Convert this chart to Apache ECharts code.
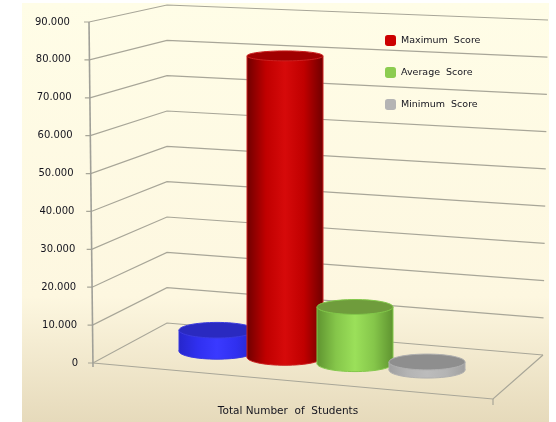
<!DOCTYPE html>
<html lang="en">
<head>
<meta charset="UTF-8">
<title>score chart</title>
<script type="text/javascript" src="https://cdn.jsdelivr.net/npm/echarts@6/dist/echarts.min.js"></script>
<style>
  html, body { margin: 0; padding: 0; background: #fff; }
  #main { width: 556px; height: 422px; filter: blur(0.6px); }
</style>
</head>
<body>
<div id="main"></div>
<script type="text/javascript">
var categories = ['Total Number  of  Students'];
var tickLabels = ['0', '10.000', '20.000', '30.000', '40.000', '50.000', '60.000', '70.000', '80.000', '90.000'];
var tickValues = [0, 10000, 20000, 30000, 40000, 50000, 60000, 70000, 80000, 90000];
var legendNames = ['Maximum  Score', 'Average  Score', 'Minimum  Score'];
var studentsValues = [5700];
var maximumValues = [82000];
var averageValues = [15400];
var minimumValues = [2200];

var myChart = echarts.init(document.getElementById('main'));

// perspective of the box, front y comes from the value axis
var left = 93, top0 = 22, bottom0 = 363, maxV = 90000;
var back = { x: 167, y0: 323, h: 318 };
var side = { x: 543, y0: 355, h: 335 };
var frontRight = { x: 493, y: 399 };
var clusterShift = [-71, -3, 67, 139];
var textColor = '#14141e';

function hGrad(edge, mid, light) {
    return {
        type: 'linear', x: 0, y: 0, x2: 1, y2: 0,
        colorStops: [
            { offset: 0, color: edge },
            { offset: 0.25, color: mid },
            { offset: 0.5, color: light },
            { offset: 0.75, color: mid },
            { offset: 1, color: edge }
        ]
    };
}

// wall lines and floor
function renderBox(params, api) {
    var children = [];
    var lineStyle = { stroke: '#a8a698', lineWidth: 1.2, fill: null };
    tickValues.forEach(function (v) {
        var p = api.coord([0, v]);
        var t = v / maxV;
        var ax = left - 4 * t;
        children.push({
            type: 'polyline',
            shape: { points: [[ax - 5, p[1]], [ax, p[1]], [back.x, back.y0 - back.h * t], [side.x + 5 * t, side.y0 - side.h * t]] },
            style: lineStyle
        });
    });
    // vertical axis, leans a little
    children.push({
        type: 'line',
        shape: { x1: left - 4, y1: api.coord([0, maxV])[1], x2: left, y2: api.coord([0, 0])[1] + 4 },
        style: { stroke: '#a0a098', lineWidth: 1.6 }
    });
    // floor front edge and right edge
    children.push({
        type: 'polyline',
        shape: { points: [[left, bottom0], [frontRight.x, frontRight.y], [side.x, side.y0]] },
        style: lineStyle
    });
    children.push({
        type: 'line',
        shape: { x1: frontRight.x, y1: frontRight.y, x2: frontRight.x, y2: frontRight.y + 6 },
        style: lineStyle
    });
    return { type: 'group', children: children };
}

// one cylinder, index = place in the cluster
function makeCylinder(index, c) {
    return function (params, api) {
        var val = api.value(1);
        var center = api.coord([0, 0]);
        var x = center[0] + clusterShift[index];
        var yBase = center[1] + (x - left) * 0.09 - 23;
        var h = api.size([0, val])[1] * 0.97;
        var rx = 38, ry = 8;
        // top gets flatter the higher it is
        var ryTop = ry - 3 * h / 300;
        var stroke = c.stroke;
        return {
            type: 'group',
            children: [
                { type: 'ellipse', shape: { cx: x, cy: yBase, rx: rx, ry: ry }, style: { fill: hGrad(c.edge, c.mid, c.light), stroke: stroke, lineWidth: 1 } },
                { type: 'rect', shape: { x: x - rx, y: yBase - h, width: rx * 2, height: h }, style: { fill: hGrad(c.edge, c.mid, c.light), stroke: null } },
                { type: 'line', shape: { x1: x - rx, y1: yBase - h, x2: x - rx, y2: yBase }, style: { stroke: stroke, lineWidth: 1 } },
                { type: 'line', shape: { x1: x + rx, y1: yBase - h, x2: x + rx, y2: yBase }, style: { stroke: stroke, lineWidth: 1 } },
                { type: 'ellipse', shape: { cx: x, cy: yBase - h, rx: rx, ry: ryTop }, style: { fill: c.top, stroke: stroke, lineWidth: 1 } }
            ]
        };
    };
}

var rich = {};
tickLabels.forEach(function (t, i) {
    rich['t' + i] = { color: textColor, fontFamily: 'DejaVu Sans', fontSize: 10, padding: [0, i * 0.9, 0, 0] };
});

function cylinderSeries(name, values, index, c) {
    return {
        name: name,
        type: 'custom',
        renderItem: makeCylinder(index, c),
        encode: { x: 0, y: 1 },
        data: values.map(function (v, i) { return [i, v]; }),
        z: 3 + index,
        itemStyle: { color: c.legend },
        silent: true
    };
}

myChart.setOption({
    animation: false,
    graphic: [{
        type: 'rect',
        z: -10,
        shape: { x: 22, y: 3, width: 527, height: 419 },
        style: {
            fill: {
                type: 'linear', x: 0, y: 0, x2: 0, y2: 1,
                colorStops: [
                    { offset: 0, color: '#fffde7' },
                    { offset: 0.7, color: '#fdf7e0' },
                    { offset: 1, color: '#e6dabb' }
                ]
            }
        }
    }],
    legend: {
        data: legendNames,
        orient: 'vertical',
        left: 380,
        top: 30,
        icon: 'roundRect',
        itemWidth: 11,
        itemHeight: 11,
        itemGap: 21,
        selectedMode: false,
        textStyle: { color: textColor, fontFamily: 'DejaVu Sans', fontSize: 9.5 }
    },
    grid: { left: left, right: 73, top: top0, bottom: 422 - bottom0 },
    xAxis: {
        type: 'category',
        data: categories,
        axisLine: { show: false },
        axisTick: { show: false },
        axisLabel: { margin: 43, color: textColor, fontFamily: 'DejaVu Sans', fontSize: 10.5 }
    },
    yAxis: {
        type: 'value',
        min: 0,
        max: maxV,
        interval: 10000,
        splitLine: { show: false },
        axisLine: { show: false },
        axisTick: { show: false },
        axisLabel: {
            margin: 15,
            hideOverlap: false,
            formatter: function (v) {
                var i = tickValues.indexOf(v);
                return '{t' + i + '|' + tickLabels[i] + '}';
            },
            rich: rich
        }
    },
    series: [
        { type: 'custom', renderItem: renderBox, data: [[0, 0]], z: 1, silent: true },
        cylinderSeries('Total Number of Students', studentsValues, 0,
            { edge: '#2626cc', mid: '#3030f0', light: '#3a3aff', top: '#2a2ac0', stroke: '#3a3ae0', legend: '#3333ee' }),
        cylinderSeries('Maximum  Score', maximumValues, 1,
            { edge: '#700000', mid: '#c00000', light: '#d60a0a', top: '#a00000', stroke: '#cc2020', legend: '#cc0000' }),
        cylinderSeries('Average  Score', averageValues, 2,
            { edge: '#5f9430', mid: '#85c64a', light: '#9be05a', top: '#6f9c3c', stroke: '#82c84a', legend: '#8ccc50' }),
        cylinderSeries('Minimum  Score', minimumValues, 3,
            { edge: '#a0a0a0', mid: '#b4b4b4', light: '#bcbcbc', top: '#8e8e8e', stroke: '#b0b0b0', legend: '#b4b4b4' })
    ]
});
</script>
</body>
</html>
